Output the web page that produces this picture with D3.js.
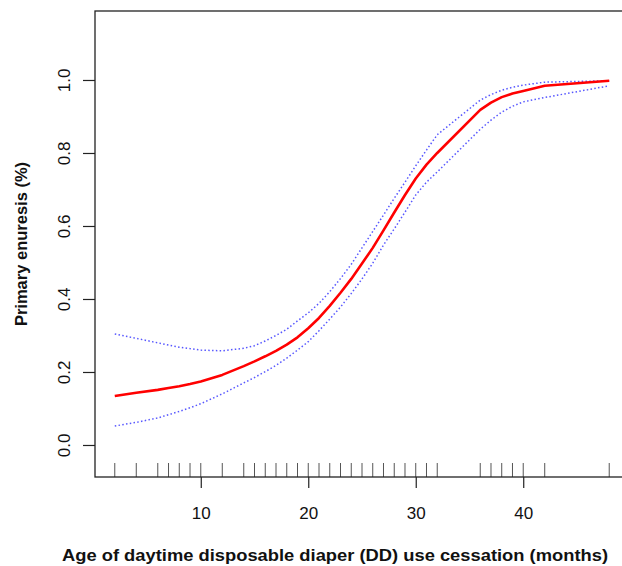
<!DOCTYPE html>
<html>
<head>
<meta charset="utf-8">
<script src="https://cdn.jsdelivr.net/npm/d3@7"></script>
<style>
  body { margin: 0; background: #fff; }
  svg { display: block; font-family: "Liberation Sans", Arial, Helvetica, sans-serif; }
</style>
</head>
<body>
<svg id="chart" width="622" height="566"></svg>
<script>
// observed ages (rug) and fitted curve with confidence limits at those ages
const ages = [2, 4, 6, 7, 8, 9, 10, 12, 14, 15, 16, 17, 18, 19, 20, 21, 22, 23, 24, 25,
    26, 27, 28, 29, 30, 31, 32, 36, 37, 38, 39, 40, 42, 48];
const fit = [0.134, 0.143, 0.151, 0.156, 0.161, 0.167, 0.174, 0.192, 0.216, 0.229, 0.243,
    0.258, 0.275, 0.295, 0.320, 0.348, 0.381, 0.417, 0.455, 0.497, 0.540, 0.588, 0.637,
    0.685, 0.730, 0.768, 0.800, 0.918, 0.938, 0.953, 0.963, 0.970, 0.984, 0.998];
const upper = [0.304, 0.292, 0.280, 0.274, 0.268, 0.264, 0.260, 0.258, 0.265, 0.272, 0.285,
    0.300, 0.317, 0.340, 0.362, 0.388, 0.420, 0.456, 0.495, 0.540, 0.585, 0.630, 0.676,
    0.720, 0.765, 0.808, 0.850, 0.945, 0.960, 0.972, 0.980, 0.986, 0.994, 0.998];
const lower = [0.052, 0.062, 0.074, 0.083, 0.092, 0.102, 0.113, 0.140, 0.170, 0.185, 0.201,
    0.218, 0.238, 0.260, 0.283, 0.313, 0.345, 0.378, 0.415, 0.455, 0.498, 0.548, 0.592,
    0.638, 0.685, 0.720, 0.748, 0.865, 0.890, 0.912, 0.928, 0.940, 0.952, 0.984];
const xTicks = [10, 20, 30, 40];
const yTicks = [0, 0.2, 0.4, 0.6, 0.8, 1.0];

const svg = d3.select("#chart");
const box = { left: 95, top: 11, right: 629, bottom: 477 };

const x = d3.scaleLinear().domain([0.16, 49.84]).range([box.left, box.right]);
const y = d3.scaleLinear().domain([-0.0877, 1.189]).range([box.bottom, box.top]);

// rug
svg.append("g")
    .selectAll("line")
    .data(ages)
    .join("line")
    .attr("x1", d => x(d)).attr("x2", d => x(d))
    .attr("y1", box.bottom).attr("y2", box.bottom - 14)
    .attr("stroke", "#555")
    .attr("stroke-width", 1);

const line = (vals) => d3.line()
    .x((d, i) => x(ages[i]))
    .y(d => y(d))(vals);

// confidence limits
[upper, lower].forEach(v => {
    svg.append("path")
        .attr("d", line(v))
        .attr("fill", "none")
        .attr("stroke", "#3a3aff")
        .attr("stroke-width", 1.5)
        .attr("stroke-dasharray", "1.5,2.3")
        .attr("opacity", 0.85);
});

// fitted curve
svg.append("path")
    .attr("d", line(fit))
    .attr("fill", "none")
    .attr("stroke", "#ff0000")
    .attr("stroke-width", 2.6)
    .attr("stroke-linejoin", "round");

// axes
const xAxis = svg.append("g")
    .attr("transform", `translate(0,${box.bottom})`)
    .call(d3.axisBottom(x).tickValues(xTicks).tickSize(11).tickPadding(19).tickFormat(d3.format("d")));
xAxis.select(".domain").remove();

const yAxis = svg.append("g")
    .attr("transform", `translate(${box.left},0)`)
    .call(d3.axisLeft(y).tickValues(yTicks).tickSize(12).tickFormat(d3.format(".1f")));
yAxis.select(".domain").remove();
yAxis.selectAll("text")
    .attr("x", null).attr("dy", null)
    .attr("text-anchor", "middle")
    .attr("transform", "translate(-25,0) rotate(-90)");

svg.selectAll(".tick line").attr("stroke", "#222").attr("stroke-width", 1.2);
svg.selectAll(".tick text")
    .attr("fill", "#111")
    .style("font-size", "17px")
    .style("font-family", "'Liberation Sans', Arial, Helvetica, sans-serif");

// box (right edge falls outside the picture)
svg.append("rect")
    .attr("x", box.left).attr("y", box.top)
    .attr("width", box.right - box.left).attr("height", box.bottom - box.top)
    .attr("fill", "none")
    .attr("stroke", "#222")
    .attr("stroke-width", 1.3);

// titles
svg.append("text")
    .attr("x", 62).attr("y", 561)
    .attr("textLength", 546)
    .attr("lengthAdjust", "spacingAndGlyphs")
    .style("font-size", "17px").style("font-weight", "bold")
    .attr("fill", "#111")
    .text("Age of daytime disposable diaper (DD) use cessation (months)");

svg.append("text")
    .attr("transform", `translate(27,${(box.top + box.bottom) / 2}) rotate(-90)`)
    .attr("text-anchor", "middle")
    .style("font-size", "16.5px").style("font-weight", "bold")
    .attr("fill", "#111")
    .text("Primary enuresis (%)");
</script>
</body>
</html>
